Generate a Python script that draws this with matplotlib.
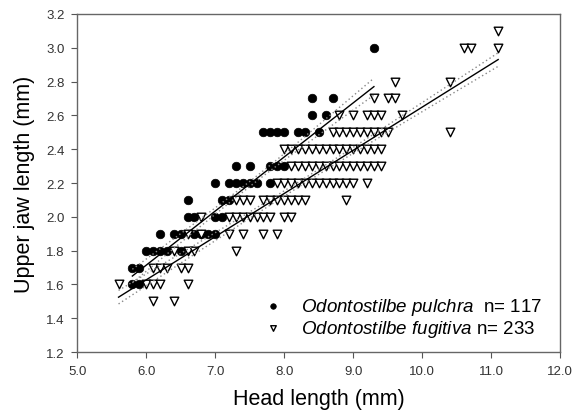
import numpy as np
import matplotlib
matplotlib.use("Agg")
import matplotlib.pyplot as plt

plt.rcParams['font.family'] = ['Liberation Sans', 'DejaVu Sans']
plt.rcParams['mathtext.fontset'] = 'custom'
plt.rcParams['mathtext.it'] = 'Liberation Sans:italic'
plt.rcParams['mathtext.rm'] = 'Liberation Sans'

# Odontostilbe pulchra (filled circles)
pulchra_x = [9.3,
             8.4, 8.7,
             8.4, 8.6,
             7.7, 7.8, 7.9, 8.0, 8.2, 8.3, 8.5,
             7.3, 7.5, 7.8, 7.9, 8.0,
             7.0, 7.2, 7.3, 7.4, 7.5, 7.6, 7.8,
             6.6, 7.1, 7.2,
             6.6, 6.7, 7.0, 7.1,
             6.2, 6.4, 6.5, 6.7, 6.8, 6.9, 7.0,
             6.0, 6.1, 6.2, 6.3, 6.5,
             5.8, 5.9,
             5.8, 5.9]
pulchra_y = [3.0,
             2.7, 2.7,
             2.6, 2.6,
             2.5, 2.5, 2.5, 2.5, 2.5, 2.5, 2.5,
             2.3, 2.3, 2.3, 2.3, 2.3,
             2.2, 2.2, 2.2, 2.2, 2.2, 2.2, 2.2,
             2.1, 2.1, 2.1,
             2.0, 2.0, 2.0, 2.0,
             1.9, 1.9, 1.9, 1.9, 1.9, 1.9, 1.9,
             1.8, 1.8, 1.8, 1.8, 1.8,
             1.7, 1.7,
             1.6, 1.6]

# Odontostilbe fugitiva (open down triangles)
fugitiva_x = [11.1,
              10.6, 10.7, 11.1,
              9.6, 10.4,
              9.3, 9.5, 9.6,
              8.8, 9.0, 9.2, 9.3, 9.4, 9.7,
              8.7, 8.8, 8.9, 9.0, 9.1, 9.2, 9.3, 9.4, 9.5, 10.4,
              8.0, 8.1, 8.2, 8.3, 8.4, 8.5, 8.6, 8.7, 8.8, 8.9, 9.0, 9.1, 9.2, 9.3, 9.4,
              8.1, 8.2, 8.3, 8.4, 8.5, 8.6, 8.7, 8.8, 8.9, 9.0, 9.1, 9.2, 9.3, 9.4,
              7.9, 8.0, 8.1, 8.2, 8.3, 8.4, 8.5, 8.6, 8.7, 8.8, 8.9, 9.0, 9.2,
              7.3, 7.4, 7.5, 7.7, 7.8, 7.9, 8.0, 8.1, 8.2, 8.3, 8.9,
              6.8, 7.2, 7.3, 7.4, 7.5, 7.6, 7.7, 7.8, 8.0, 8.1,
              6.6, 6.8, 7.2, 7.4, 7.7, 7.9,
              6.4, 6.6, 6.7, 7.3,
              6.1, 6.2, 6.3, 6.5, 6.6,
              5.6, 6.0, 6.1, 6.2, 6.6,
              6.1, 6.4]
fugitiva_y = [3.1,
              3.0, 3.0, 3.0,
              2.8, 2.8,
              2.7, 2.7, 2.7,
              2.6, 2.6, 2.6, 2.6, 2.6, 2.6,
              2.5, 2.5, 2.5, 2.5, 2.5, 2.5, 2.5, 2.5, 2.5, 2.5,
              2.4, 2.4, 2.4, 2.4, 2.4, 2.4, 2.4, 2.4, 2.4, 2.4, 2.4, 2.4, 2.4, 2.4, 2.4,
              2.3, 2.3, 2.3, 2.3, 2.3, 2.3, 2.3, 2.3, 2.3, 2.3, 2.3, 2.3, 2.3, 2.3,
              2.2, 2.2, 2.2, 2.2, 2.2, 2.2, 2.2, 2.2, 2.2, 2.2, 2.2, 2.2, 2.2,
              2.1, 2.1, 2.1, 2.1, 2.1, 2.1, 2.1, 2.1, 2.1, 2.1, 2.1,
              2.0, 2.0, 2.0, 2.0, 2.0, 2.0, 2.0, 2.0, 2.0, 2.0,
              1.9, 1.9, 1.9, 1.9, 1.9, 1.9,
              1.8, 1.8, 1.8, 1.8,
              1.7, 1.7, 1.7, 1.7, 1.7,
              1.6, 1.6, 1.6, 1.6, 1.6,
              1.5, 1.5]

# regression lines (end points) and confidence band half widths (start, middle, end)
pulchra_line_x = [5.8, 9.3]
pulchra_line_y = [1.65, 2.77]
pulchra_band = [0.04, 0.015, 0.05]
fugitiva_line_x = [5.6, 11.1]
fugitiva_line_y = [1.525, 2.93]
fugitiva_band = [0.04, 0.015, 0.04]


def draw_fit(ax, lx, ly, band):
    xs = np.linspace(lx[0], lx[1], 100)
    ys = np.interp(xs, lx, ly)
    xm = (lx[0] + lx[1]) / 2
    half = (lx[1] - lx[0]) / 2
    # hyperbolic band shape through the read widths
    k0 = (band[0] ** 2 - band[1] ** 2) / half ** 2
    k1 = (band[2] ** 2 - band[1] ** 2) / half ** 2
    k = np.where(xs < xm, k0, k1)
    w = np.sqrt(band[1] ** 2 + k * (xs - xm) ** 2)
    ax.plot(xs, ys, color='black', lw=1.0, zorder=4)
    ax.plot(xs, ys + w, color='#888888', lw=1.0, ls=(0, (1, 2)), zorder=4)
    ax.plot(xs, ys - w, color='#888888', lw=1.0, ls=(0, (1, 2)), zorder=4)


fig = plt.figure(figsize=(5.8, 4.14), dpi=100)
ax = fig.add_axes([0.133, 0.147, 0.833, 0.817])

ax.scatter(pulchra_x, pulchra_y, s=38, marker='o', facecolor='black',
           edgecolor='black', linewidths=0.5, zorder=2,
           label=r'$\it{Odontostilbe\ pulchra}$  n= 117')
ax.scatter(fugitiva_x, fugitiva_y, s=38, marker='v', facecolor='white',
           edgecolor='black', linewidths=1.0, zorder=3,
           label=r'$\it{Odontostilbe\ fugitiva}$ n= 233')

draw_fit(ax, pulchra_line_x, pulchra_line_y, pulchra_band)
draw_fit(ax, fugitiva_line_x, fugitiva_line_y, fugitiva_band)

ax.set_xlim(5.0, 12.0)
ax.set_ylim(1.2, 3.2)
ax.set_xticks(np.arange(5.0, 12.01, 1.0))
ax.set_yticks(np.arange(1.2, 3.21, 0.2))
ax.xaxis.set_major_formatter(matplotlib.ticker.FormatStrFormatter('%.1f'))
ax.yaxis.set_major_formatter(matplotlib.ticker.FormatStrFormatter('%.1f'))
ax.tick_params(direction='out', length=4, width=0.8, colors='#555555',
               labelsize=9.5, labelcolor='#333333', pad=5)
for sp in ax.spines.values():
    sp.set_color('#666666')
    sp.set_linewidth(1.0)

ax.set_xlabel('Head length (mm)', fontsize=15.5, labelpad=8)
ax.set_ylabel('Upper jaw length (mm)', fontsize=15.5, labelpad=8)

ax.legend(loc='lower right', frameon=False, fontsize=13.5, handletextpad=0.5,
          borderaxespad=0.3, labelspacing=0.05, markerscale=0.65,
          bbox_to_anchor=(0.99, 0.0))

fig.savefig('out.png', dpi=100)
